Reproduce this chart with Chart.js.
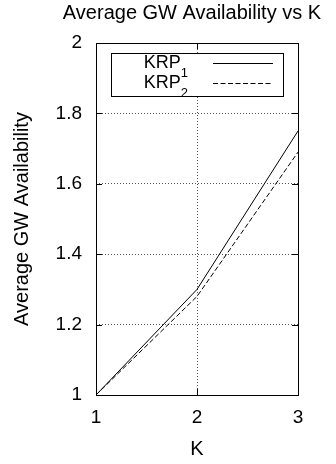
<!DOCTYPE html>
<html lang="en">
<head>
<meta charset="UTF-8" />
<title>Average GW Availability vs K</title>
<script src="https://cdn.jsdelivr.net/npm/chart.js"></script>
<style>
  body { margin: 0; background: #fff; }
  .chart-box { position: relative; width: 336px; height: 464px; }
</style>
</head>
<body>
<div class="chart-box">
  <canvas id="gwChart"></canvas>
</div>
<script>
  // data
  const kValues = [1, 2, 3];
  const krp1 = [1, 1.30, 1.75];
  const krp2 = [1, 1.28, 1.69];
  const seriesNames = ['KRP_1', 'KRP_2'];
  const xTickValues = [1, 2, 3];
  const yTickValues = [1, 1.2, 1.4, 1.6, 1.8, 2];
  const chartTitle = 'Average GW Availability vs K';
  const xTitle = 'K';
  const yTitle = 'Average GW Availability';

  const FONT = '"Liberation Sans", Arial, Helvetica, sans-serif';
  Chart.defaults.font.family = FONT;
  Chart.defaults.color = '#000';

  // title centred over the plot, gnuplot style
  const titlePlugin = {
    id: 'plotTitle',
    afterDraw(chart) {
      const ctx = chart.ctx;
      ctx.save();
      ctx.font = '20px ' + FONT;
      ctx.fillStyle = '#000';
      ctx.textAlign = 'center';
      ctx.textBaseline = 'alphabetic';
      ctx.fillText(chartTitle, 192, 18.5);
      ctx.restore();
    }
  };

  // border box + inward tick marks on all four sides
  const framePlugin = {
    id: 'frame',
    afterDatasetsDraw(chart) {
      const { ctx, chartArea: a, scales } = chart;
      const len = 6;
      ctx.save();
      ctx.strokeStyle = '#000';
      ctx.lineWidth = 1;
      ctx.setLineDash([]);
      ctx.beginPath();
      scales.y.ticks.forEach(t => {
        const y = Math.round(scales.y.getPixelForValue(t.value)) + 0.5;
        ctx.moveTo(a.left, y); ctx.lineTo(a.left + len, y);
        ctx.moveTo(a.right, y); ctx.lineTo(a.right - len, y);
      });
      scales.x.ticks.forEach(t => {
        const x = Math.round(scales.x.getPixelForValue(t.value)) + 0.5;
        ctx.moveTo(x, a.bottom); ctx.lineTo(x, a.bottom - len);
        ctx.moveTo(x, a.top); ctx.lineTo(x, a.top + len);
      });
      ctx.stroke();
      ctx.strokeRect(Math.round(a.left) + 0.5, Math.round(a.top) + 0.5,
        Math.round(a.right - a.left), Math.round(a.bottom - a.top));
      ctx.restore();
    }
  };

  // key box inside the plot, labels with subscripts, sample line to the right
  const keyPlugin = {
    id: 'keyBox',
    afterDraw(chart) {
      const { ctx, chartArea: a } = chart;
      const bx = a.left + 15, by = a.top + 10, bw = 172, bh = 43;
      ctx.save();
      ctx.fillStyle = '#fff';
      ctx.fillRect(bx, by, bw, bh);
      ctx.strokeStyle = '#000';
      ctx.lineWidth = 1;
      ctx.strokeRect(Math.round(bx) + 0.5, Math.round(by) + 0.5, bw, bh);
      chart.data.datasets.forEach((ds, i) => {
        const [main, sub] = ds.label.split('_');
        const base = by + 14.5 + i * 20;
        const subEnd = a.left + 92;
        ctx.fillStyle = '#000';
        ctx.textBaseline = 'alphabetic';
        ctx.textAlign = 'right';
        ctx.font = '13px ' + FONT;
        ctx.fillText(sub, subEnd, base + 9);
        const sw = ctx.measureText(sub).width;
        ctx.font = '18px ' + FONT;
        ctx.fillText(main, subEnd - sw, base);
        const ly = Math.round(by + 10 + i * 20) + 0.5;
        ctx.beginPath();
        ctx.setLineDash(ds.borderDash || []);
        ctx.strokeStyle = ds.borderColor;
        ctx.lineWidth = ds.borderWidth;
        ctx.moveTo(a.left + 117, ly);
        ctx.lineTo(a.left + 177, ly);
        ctx.stroke();
      });
      ctx.restore();
    }
  };

  const edgeTransparent = (ctx) =>
    (ctx.index === 0 || ctx.index === ctx.scale.ticks.length - 1) ? 'rgba(0,0,0,0)' : '#555';

  new Chart(document.getElementById('gwChart'), {
    type: 'line',
    data: {
      labels: kValues,
      datasets: [
        {
          label: seriesNames[0],
          data: kValues.map((k, i) => ({ x: k, y: krp1[i] })),
          borderColor: '#000',
          borderWidth: 1,
          pointRadius: 0,
          tension: 0,
          fill: false
        },
        {
          label: seriesNames[1],
          data: kValues.map((k, i) => ({ x: k, y: krp2[i] })),
          borderColor: '#000',
          borderWidth: 1,
          borderDash: [5, 2.5],
          pointRadius: 0,
          tension: 0,
          fill: false
        }
      ]
    },
    options: {
      responsive: true,
      maintainAspectRatio: false,
      animation: false,
      layout: { padding: { top: 43, right: 38, left: 0, bottom: 0 } },
      plugins: {
        legend: { display: false },
        title: { display: false },
        tooltip: { enabled: false }
      },
      scales: {
        x: {
          type: 'linear',
          min: 1,
          max: 3,
          afterBuildTicks: s => { s.ticks = xTickValues.map(v => ({ value: v })); },
          afterFit: s => { s.height = 69; },
          grid: { color: edgeTransparent, drawTicks: false, lineWidth: 1 },
          border: { display: false, dash: [1, 2] },
          ticks: { font: { size: 19 }, padding: 11, maxRotation: 0, callback: v => String(v) },
          title: { display: true, text: xTitle, font: { size: 20 }, padding: { top: 0, bottom: 3 } }
        },
        y: {
          min: 1,
          max: 2,
          afterBuildTicks: s => { s.ticks = yTickValues.map(v => ({ value: v })); },
          afterFit: s => { s.width = 96; },
          grid: { color: edgeTransparent, drawTicks: false, lineWidth: 1 },
          border: { display: false, dash: [1, 2] },
          ticks: { font: { size: 19 }, padding: 14, callback: v => String(+v.toFixed(1)) },
          title: { display: true, text: yTitle, font: { size: 20 }, padding: { top: 10, bottom: 0 } }
        }
      }
    },
    plugins: [titlePlugin, framePlugin, keyPlugin]
  });
</script>
</body>
</html>
